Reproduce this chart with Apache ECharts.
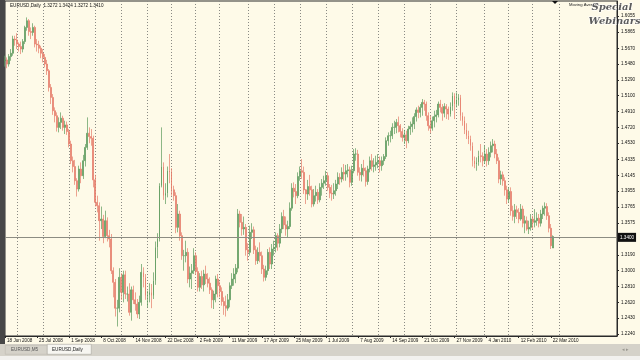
<!DOCTYPE html>
<html><head><meta charset="utf-8">
<script src="https://cdn.jsdelivr.net/npm/echarts@6/dist/echarts.min.js"></script>
<style>html,body{margin:0;padding:0;background:#fefae8}#c{width:640px;height:360px}</style>
</head><body><div id="c"></div>
<script>
// rows: [open, close, low, high]
const candles2008 = [
[1.552,1.553,1.545,1.558],[1.553,1.548,1.543,1.556],[1.548,1.557,1.545,1.560],[1.557,1.561,1.552,1.566],[1.561,1.578,1.558,1.582],
[1.578,1.577,1.570,1.582],[1.577,1.572,1.566,1.585],[1.572,1.569,1.563,1.574],[1.569,1.566,1.560,1.575],[1.566,1.575,1.562,1.578],
[1.575,1.592,1.572,1.594],[1.592,1.600,1.588,1.604],[1.600,1.587,1.582,1.602],[1.587,1.586,1.578,1.592],[1.586,1.592,1.582,1.597],
[1.592,1.572,1.568,1.594],[1.572,1.571,1.563,1.578],[1.571,1.567,1.561,1.576],[1.567,1.561,1.555,1.570],[1.561,1.556,1.550,1.566],
[1.556,1.548,1.544,1.560],[1.548,1.540,1.535,1.553],[1.540,1.520,1.515,1.542],[1.520,1.508,1.500,1.524],[1.508,1.492,1.487,1.512],
[1.492,1.486,1.478,1.496],[1.486,1.472,1.467,1.490],[1.472,1.478,1.466,1.484],[1.478,1.483,1.470,1.490],[1.483,1.472,1.468,1.486],
[1.472,1.475,1.464,1.480],[1.475,1.467,1.463,1.479],[1.467,1.452,1.448,1.470],[1.452,1.432,1.428,1.456],[1.432,1.425,1.418,1.437],
[1.425,1.408,1.403,1.433],[1.408,1.398,1.389,1.411],[1.398,1.422,1.395,1.426],[1.422,1.414,1.405,1.430],[1.414,1.432,1.410,1.439],
[1.432,1.448,1.425,1.452],[1.448,1.465,1.445,1.484],[1.465,1.461,1.453,1.472],[1.461,1.459,1.450,1.470],[1.459,1.409,1.400,1.462],
[1.409,1.382,1.377,1.415],[1.382,1.378,1.370,1.390],[1.378,1.360,1.336,1.382],[1.360,1.362,1.350,1.377],[1.362,1.341,1.333,1.367],
[1.341,1.360,1.339,1.372],[1.360,1.342,1.335,1.364],[1.342,1.338,1.328,1.349],[1.338,1.300,1.296,1.344],[1.300,1.286,1.268,1.304],
[1.286,1.255,1.245,1.290],[1.255,1.255,1.233,1.265],[1.255,1.292,1.250,1.303],[1.292,1.274,1.265,1.297],[1.274,1.295,1.262,1.300],
[1.295,1.272,1.266,1.300],[1.272,1.272,1.263,1.281],[1.272,1.250,1.246,1.285],[1.250,1.277,1.240,1.281],[1.277,1.265,1.260,1.282],
[1.265,1.260,1.252,1.274],[1.260,1.248,1.243,1.266],[1.248,1.262,1.242,1.270],[1.262,1.298,1.258,1.308],[1.298,1.292,1.280,1.304],
[1.292,1.270,1.265,1.296],[1.270,1.271,1.256,1.276],[1.271,1.274,1.262,1.285],[1.274,1.270,1.255,1.284],[1.270,1.288,1.266,1.298],
[1.288,1.328,1.283,1.335],[1.328,1.338,1.315,1.345],[1.338,1.402,1.335,1.405],[1.402,1.425,1.400,1.472],[1.425,1.390,1.385,1.430],
[1.390,1.393,1.380,1.405],[1.393,1.420,1.388,1.425],[1.420,1.418,1.405,1.440],[1.418,1.397,1.390,1.423]
];
const candles2009 = [
[1.397,1.390,1.384,1.402],[1.390,1.352,1.345,1.394],[1.352,1.368,1.346,1.380],[1.368,1.342,1.336,1.372],[1.342,1.318,1.313,1.346],
[1.318,1.318,1.300,1.325],[1.318,1.322,1.310,1.336],[1.322,1.290,1.285,1.327],[1.290,1.297,1.280,1.305],[1.297,1.300,1.278,1.308],
[1.300,1.318,1.296,1.327],[1.318,1.299,1.295,1.322],[1.299,1.280,1.275,1.304],[1.280,1.293,1.275,1.297],[1.293,1.283,1.278,1.300],
[1.283,1.296,1.275,1.301],[1.296,1.290,1.284,1.306],[1.290,1.285,1.280,1.297],[1.285,1.277,1.272,1.292],[1.277,1.265,1.255,1.280],
[1.265,1.272,1.254,1.276],[1.272,1.290,1.262,1.294],[1.290,1.282,1.268,1.296],[1.282,1.275,1.268,1.287],[1.275,1.263,1.258,1.280],
[1.263,1.258,1.247,1.268],[1.258,1.255,1.245,1.270],[1.255,1.265,1.252,1.272],[1.265,1.282,1.256,1.286],[1.282,1.290,1.278,1.297],
[1.290,1.296,1.282,1.303],[1.296,1.303,1.285,1.308],[1.303,1.368,1.298,1.374],[1.368,1.358,1.352,1.372],[1.358,1.350,1.342,1.368],
[1.350,1.352,1.343,1.365],[1.352,1.325,1.318,1.356],[1.325,1.322,1.312,1.333],[1.322,1.346,1.318,1.354],[1.346,1.349,1.338,1.357],
[1.349,1.325,1.320,1.353],[1.325,1.312,1.307,1.330],[1.312,1.322,1.308,1.328],[1.322,1.318,1.310,1.334],[1.318,1.302,1.296,1.323],
[1.302,1.292,1.287,1.307],[1.292,1.300,1.288,1.306],[1.300,1.322,1.295,1.326],[1.322,1.308,1.302,1.328],[1.308,1.326,1.302,1.332],
[1.326,1.328,1.318,1.336],[1.328,1.342,1.322,1.346],[1.342,1.333,1.324,1.345],[1.333,1.350,1.328,1.356],[1.350,1.365,1.345,1.370],
[1.365,1.355,1.350,1.373],[1.355,1.350,1.342,1.365],[1.350,1.353,1.340,1.360],[1.353,1.375,1.350,1.382],[1.375,1.399,1.372,1.405],
[1.399,1.395,1.388,1.406],[1.395,1.390,1.380,1.404],[1.390,1.413,1.387,1.418],[1.413,1.420,1.408,1.425],[1.420,1.418,1.410,1.434],
[1.418,1.397,1.392,1.425],[1.397,1.392,1.380,1.398],[1.392,1.401,1.385,1.409],[1.401,1.397,1.390,1.415],[1.397,1.380,1.376,1.402],
[1.380,1.390,1.377,1.398],[1.390,1.394,1.383,1.402],[1.394,1.385,1.380,1.398],[1.385,1.400,1.382,1.405],[1.400,1.405,1.390,1.410],
[1.405,1.408,1.398,1.414],[1.408,1.414,1.402,1.420],[1.414,1.400,1.396,1.418],[1.400,1.393,1.387,1.404],[1.393,1.392,1.384,1.403],
[1.392,1.396,1.386,1.405],[1.396,1.404,1.390,1.409],[1.404,1.412,1.398,1.418],[1.412,1.410,1.403,1.417],[1.410,1.418,1.406,1.424],
[1.418,1.416,1.408,1.428],[1.416,1.420,1.408,1.427],[1.420,1.421,1.412,1.428],[1.421,1.406,1.400,1.425],[1.406,1.420,1.402,1.426],
[1.420,1.440,1.417,1.446],[1.440,1.440,1.432,1.447],[1.440,1.418,1.414,1.445],[1.418,1.415,1.408,1.424],[1.415,1.423,1.407,1.428],
[1.423,1.420,1.413,1.433],[1.420,1.407,1.401,1.424],[1.407,1.422,1.403,1.426],[1.422,1.432,1.418,1.437],[1.432,1.425,1.420,1.440],
[1.425,1.427,1.418,1.435],[1.427,1.430,1.420,1.438],[1.430,1.432,1.423,1.440],[1.432,1.426,1.418,1.437],[1.426,1.432,1.420,1.437],
[1.432,1.437,1.427,1.440],[1.437,1.456,1.434,1.460],[1.456,1.462,1.450,1.466],[1.462,1.462,1.454,1.468],[1.462,1.472,1.458,1.477],
[1.472,1.472,1.464,1.480],[1.472,1.478,1.465,1.482],[1.478,1.474,1.466,1.485],[1.474,1.467,1.460,1.476],[1.467,1.460,1.455,1.471],
[1.460,1.463,1.452,1.469],[1.463,1.456,1.447,1.468],[1.456,1.470,1.453,1.474],[1.470,1.473,1.463,1.479],[1.473,1.476,1.466,1.484],
[1.476,1.485,1.470,1.489],[1.485,1.493,1.479,1.496],[1.493,1.490,1.483,1.498],[1.490,1.496,1.484,1.500],[1.496,1.502,1.486,1.506],
[1.502,1.500,1.492,1.505],[1.500,1.486,1.480,1.503],[1.486,1.474,1.468,1.490],[1.474,1.471,1.465,1.486],[1.471,1.480,1.468,1.485],
[1.480,1.485,1.472,1.492],[1.485,1.487,1.478,1.493],[1.487,1.500,1.484,1.503],[1.500,1.496,1.490,1.505],[1.496,1.489,1.480,1.500],
[1.489,1.497,1.484,1.501],[1.497,1.494,1.482,1.500],[1.494,1.488,1.481,1.497],[1.488,1.497,1.485,1.502],[1.497,1.510,1.492,1.514],
[1.510,1.500,1.482,1.513],[1.500,1.505,1.496,1.514],[1.505,1.508,1.498,1.512],[1.508,1.486,1.480,1.511],[1.486,1.480,1.474,1.490],
[1.480,1.469,1.464,1.485],[1.469,1.462,1.458,1.477],[1.462,1.458,1.452,1.468],[1.458,1.450,1.444,1.462],[1.450,1.432,1.425,1.454],
[1.432,1.428,1.423,1.437],[1.428,1.430,1.420,1.436],[1.430,1.438,1.426,1.444],[1.438,1.437,1.430,1.452],[1.437,1.432,1.425,1.442]
];
const candles2010 = [
[1.432,1.440,1.428,1.450],[1.440,1.432,1.425,1.446],[1.432,1.442,1.427,1.448],[1.442,1.450,1.436,1.455],[1.450,1.452,1.442,1.458],
[1.452,1.440,1.435,1.456],[1.440,1.432,1.428,1.446],[1.432,1.410,1.405,1.436],[1.410,1.415,1.403,1.420],[1.415,1.408,1.402,1.419],
[1.408,1.397,1.390,1.412],[1.397,1.386,1.380,1.402],[1.386,1.395,1.382,1.400],[1.395,1.372,1.366,1.400],[1.372,1.365,1.360,1.378],
[1.365,1.373,1.357,1.380],[1.373,1.370,1.362,1.378],[1.370,1.362,1.357,1.375],[1.362,1.374,1.360,1.380],[1.374,1.357,1.352,1.378],
[1.357,1.360,1.345,1.366],[1.360,1.350,1.348,1.365],[1.350,1.352,1.344,1.360],[1.352,1.362,1.348,1.368],[1.362,1.358,1.350,1.366],
[1.358,1.360,1.352,1.374],[1.360,1.363,1.354,1.370],[1.363,1.357,1.352,1.368],[1.357,1.368,1.353,1.373],[1.368,1.375,1.362,1.378],
[1.375,1.377,1.366,1.382],[1.377,1.366,1.361,1.381],[1.366,1.351,1.346,1.370],[1.351,1.330,1.326,1.356],[1.3272,1.3410,1.3272,1.3424]
];
const xLabels = ['18 Jun 2008','25 Jul 2008','1 Sep 2008','8 Oct 2008','14 Nov 2008','22 Dec 2008','2 Feb 2009','11 Mar 2009','17 Apr 2009','25 May 2009','1 Jul 2009','7 Aug 2009','14 Sep 2009','21 Oct 2009','27 Nov 2009','4 Jan 2010','12 Feb 2010','22 Mar 2010'];
const yTicks = [1.6055,1.5865,1.5670,1.5480,1.5290,1.5100,1.4910,1.4720,1.4530,1.4335,1.4145,1.3955,1.3765,1.3575,1.3190,1.3000,1.2810,1.2620,1.2430,1.2240];
const monthStartBars = [6,19,32,45,58,71,83,95,107,121,134,147,160,173,186,199,212,225,239,251,263,276];
const symbolName = 'EURUSD,Daily';

const candles = candles2008.concat(candles2009, candles2010);
const LABEL_EVERY = 16, SHIFT_BARS = 32;
const cats = [];
for (let i = 0; i < candles.length + SHIFT_BARS; i++) cats.push(String(i));
const monthSet = new Set(monthStartBars);
const last = candles[candles.length - 1];
const isLabel = i => i % LABEL_EVERY === 0 && i / LABEL_EVERY < xLabels.length;
const FONT = 'Liberation Sans';
const BULL = '#5c9a5c', BEAR = '#e57b68';

const chart = echarts.init(document.getElementById('c'), null, {renderer:'canvas'});
chart.setOption({
  animation:false,
  backgroundColor:'#fefae8',
  grid:{left:5,right:23,top:1,bottom:24,show:true,borderColor:'#2a2a2a',borderWidth:1,backgroundColor:'transparent'},
  xAxis:{
    type:'category',data:cats,boundaryGap:false,
    axisLine:{show:true,lineStyle:{color:'#2a2a2a',width:1}},
    axisTick:{show:true,length:2,interval:(i)=>isLabel(i),lineStyle:{color:'#2a2a2a'}},
    axisLabel:{interval:(i)=>isLabel(i),formatter:(v,i)=>xLabels[i/LABEL_EVERY]||'',align:'left',
      fontSize:4.6,margin:2,color:'#111',fontFamily:FONT,padding:[0,0,0,2]},
    splitLine:{show:true,interval:(i)=>monthSet.has(i),lineStyle:{color:'#8a8a84',width:1,type:[1,2]}}
  },
  yAxis:{
    type:'value',position:'right',min:1.2216,max:1.6237,scale:true,
    axisLine:{show:true,lineStyle:{color:'#2a2a2a'}},
    axisTick:{show:true,length:2,customValues:yTicks,lineStyle:{color:'#2a2a2a'}},
    axisLabel:{customValues:yTicks,formatter:v=>v.toFixed(4),fontSize:4.6,margin:4,color:'#111',fontFamily:FONT},
    splitLine:{show:false}
  },
  series:[{
    type:'candlestick',data:candles,barWidth:1.4,
    itemStyle:{color:BULL,color0:BEAR,borderColor:BULL,borderColor0:BEAR,borderWidth:0.7},
    markLine:{symbol:'none',silent:true,animation:false,
      data:[{yAxis:last[1]}],
      lineStyle:{color:'#8c8c82',type:'solid',width:1},
      label:{show:true,position:'end',formatter:p=>Number(p.value).toFixed(4),backgroundColor:'#111',color:'#fff',
        fontSize:4.6,fontFamily:FONT,padding:[2,2],distance:1}}
  }],
  graphic:[
    {type:'rect',left:0,top:0,shape:{width:5,height:344},style:{fill:'#474747'},silent:true},
    {type:'text',left:10,top:3,style:{text:symbolName+'  '+[last[0],last[3],last[2],last[1]].map(v=>v.toFixed(4)).join(' '),
      fontSize:4.6,fontFamily:FONT,fill:'#111'}},
    {type:'polygon',shape:{points:[[552,1],[558,1],[555,4]]},style:{fill:'#111'}},
    {type:'text',left:569,top:3,style:{text:'Moving Average',fontSize:4.2,fontFamily:FONT,fill:'#222'}},
    {type:'text',left:591,top:2,style:{text:'Special',fontSize:10,fontStyle:'italic',fontWeight:'bold',fontFamily:'DejaVu Serif',
      fill:'#5c5c5c',stroke:'#ffffff',lineWidth:1,shadowColor:'rgba(0,0,0,0.5)',shadowOffsetX:1,shadowOffsetY:1,shadowBlur:1}},
    {type:'text',left:588,top:16,style:{text:'Webinars',fontSize:10,fontStyle:'italic',fontWeight:'bold',fontFamily:'DejaVu Serif',
      fill:'#5c5c5c',stroke:'#ffffff',lineWidth:1,shadowColor:'rgba(0,0,0,0.5)',shadowOffsetX:1,shadowOffsetY:1,shadowBlur:1}},
    {type:'rect',left:0,top:344,shape:{width:640,height:12},style:{fill:'#d5d2c9'},silent:true},
    {type:'rect',left:0,top:356,shape:{width:640,height:4},style:{fill:'#f2f1ee'},silent:true},
    {type:'rect',left:5,top:345,shape:{width:42,height:9},style:{fill:'#d5d2c9',stroke:'#b8b5ac',lineWidth:0.5}},
    {type:'text',left:11,top:347,style:{text:'EURUSD,M5',fontSize:4.6,fontFamily:FONT,fill:'#555'}},
    {type:'rect',left:47,top:344,shape:{width:44,height:10},style:{fill:'#f7f6f1',stroke:'#9e9b92',lineWidth:0.5}},
    {type:'text',left:52,top:347,style:{text:'EURUSD,Daily',fontSize:4.6,fontFamily:FONT,fill:'#222'}},
    {type:'text',left:622,top:347,style:{text:'◂ ▸',fontSize:5,fontFamily:FONT,fill:'#9a978f'}}
  ]
});
</script></body></html>
